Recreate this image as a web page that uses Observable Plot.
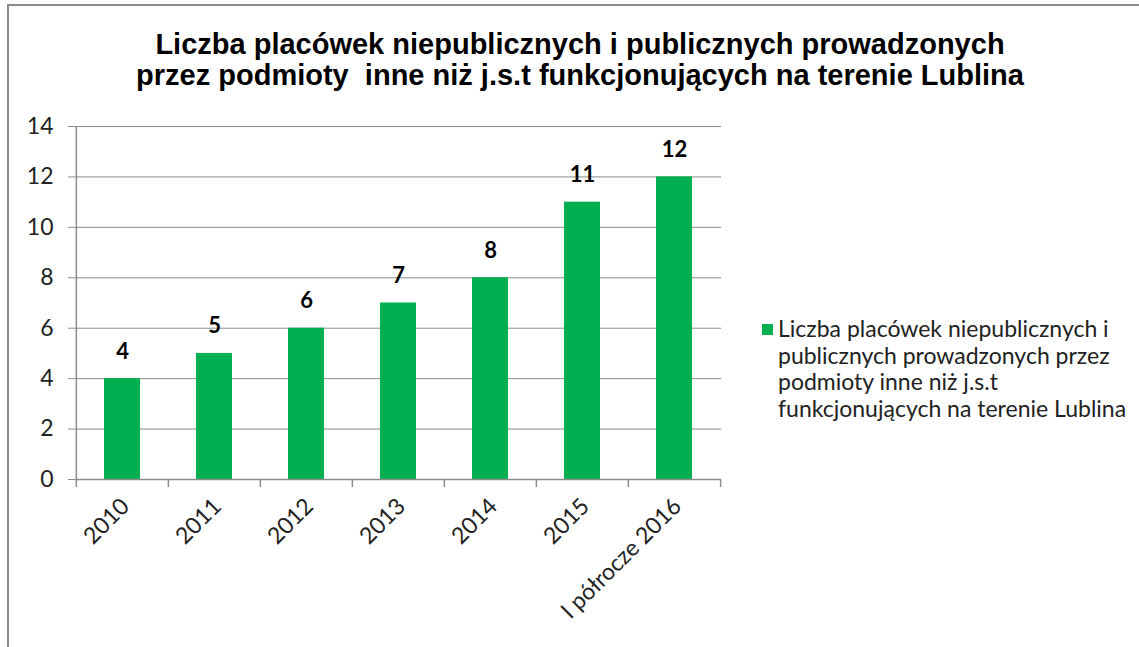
<!DOCTYPE html>
<html>
<head>
<meta charset="utf-8">
<script src="https://cdn.jsdelivr.net/npm/d3@7"></script>
<script src="https://cdn.jsdelivr.net/npm/@observablehq/plot@0.6"></script>
<style>
  html, body { margin: 0; padding: 0; background: #fff; overflow: hidden; }
  #frame { position: absolute; left: 7px; top: 4px; width: 1200px; height: 700px; border-left: 2px solid #8c8c8c; border-top: 2px solid #8c8c8c; box-sizing: border-box; }
  #title { position: absolute; left: 0; top: 29px; width: 1160px; text-align: center; font-family: "Liberation Sans", Arial, sans-serif; font-weight: bold; font-size: 29px; line-height: 31px; color: #000; }
  #chart { position: absolute; left: 0; top: 100px; }
  #legend { position: absolute; left: 762px; top: 315px; font-family: Lato, "Open Sans", sans-serif; font-size: 23px; line-height: 26.5px; color: #222; white-space: nowrap; }
  #legend .sw { position: absolute; left: 0; top: 9px; width: 11px; height: 11px; background: #00B050; }
  #legend .tx { margin-left: 16px; }
</style>
</head>
<body>
<div id="frame"></div>
<div id="title">Liczba placówek niepublicznych i publicznych prowadzonych<br>przez podmioty&nbsp; inne niż j.s.t funkcjonujących na terenie Lublina</div>
<div id="chart"></div>
<div id="legend"><div class="sw"></div><div class="tx">Liczba placówek niepublicznych i<br>publicznych prowadzonych przez<br>podmioty inne niż j.s.t<br>funkcjonujących na terenie Lublina</div></div>
<script>
const categories = ["2010", "2011", "2012", "2013", "2014", "2015", "I półrocze 2016"];
const values = [4, 5, 6, 7, 8, 11, 12];
const yTicks = [0, 2, 4, 6, 8, 10, 12, 14];
const seriesName = "Liczba placówek niepublicznych i publicznych prowadzonych przez podmioty inne niż j.s.t funkcjonujących na terenie Lublina";

const data = categories.map((c, i) => ({category: c, value: values[i]}));

const W = 1139, H = 547;
const mL = 75, mR = W - 721, mT = 26, mB = H - 379;
const step = (W - mL - mR) / categories.length;
const grey = "#8c8c8c";

const chart = Plot.plot({
  width: W,
  height: H,
  marginLeft: mL,
  marginRight: mR,
  marginTop: mT,
  marginBottom: mB,
  style: {fontFamily: "Lato, 'Open Sans', sans-serif", fontSize: "23px", color: "#222", background: "transparent", overflow: "visible"},
  x: {domain: categories, paddingInner: 0.61, paddingOuter: 0.305, label: null},
  y: {domain: [0, 14], ticks: yTicks, label: null},
  marks: [
    Plot.gridY(yTicks, {stroke: grey, strokeOpacity: 1, strokeWidth: 1}),
    Plot.barY(data, {x: "category", y: "value", fill: "#00B050"}),
    Plot.ruleY([0], {stroke: grey, strokeWidth: 1.5}),
    Plot.ruleX([categories[0]], {stroke: grey, strokeWidth: 1.5, y1: 0, y2: 14, dx: -step / 2}),
    Plot.axisY({ticks: yTicks, tickSize: 7, tickPadding: 15, stroke: grey, fontSize: "23px", fill: "#222", label: null}),
    Plot.ruleX(categories, {x: d => d, y1: 0, y2: 0, insetBottom: -8, stroke: grey, strokeWidth: 1.5, dx: -step / 2}),
    Plot.ruleX([categories[categories.length - 1]], {y1: 0, y2: 0, insetBottom: -8, stroke: grey, strokeWidth: 1.5, dx: step / 2}),
    Plot.axisX({tickSize: 0, tickRotate: -45, tickPadding: 23, dx: 3, fontSize: "23px", fill: "#222", label: null}),
    Plot.text(data, {x: "category", y: "value", text: d => String(d.value), dy: -27, fontWeight: "bold", fontSize: "22px", fill: "#000"})
  ]
});
document.getElementById("chart").appendChild(chart);
</script>
</body>
</html>
